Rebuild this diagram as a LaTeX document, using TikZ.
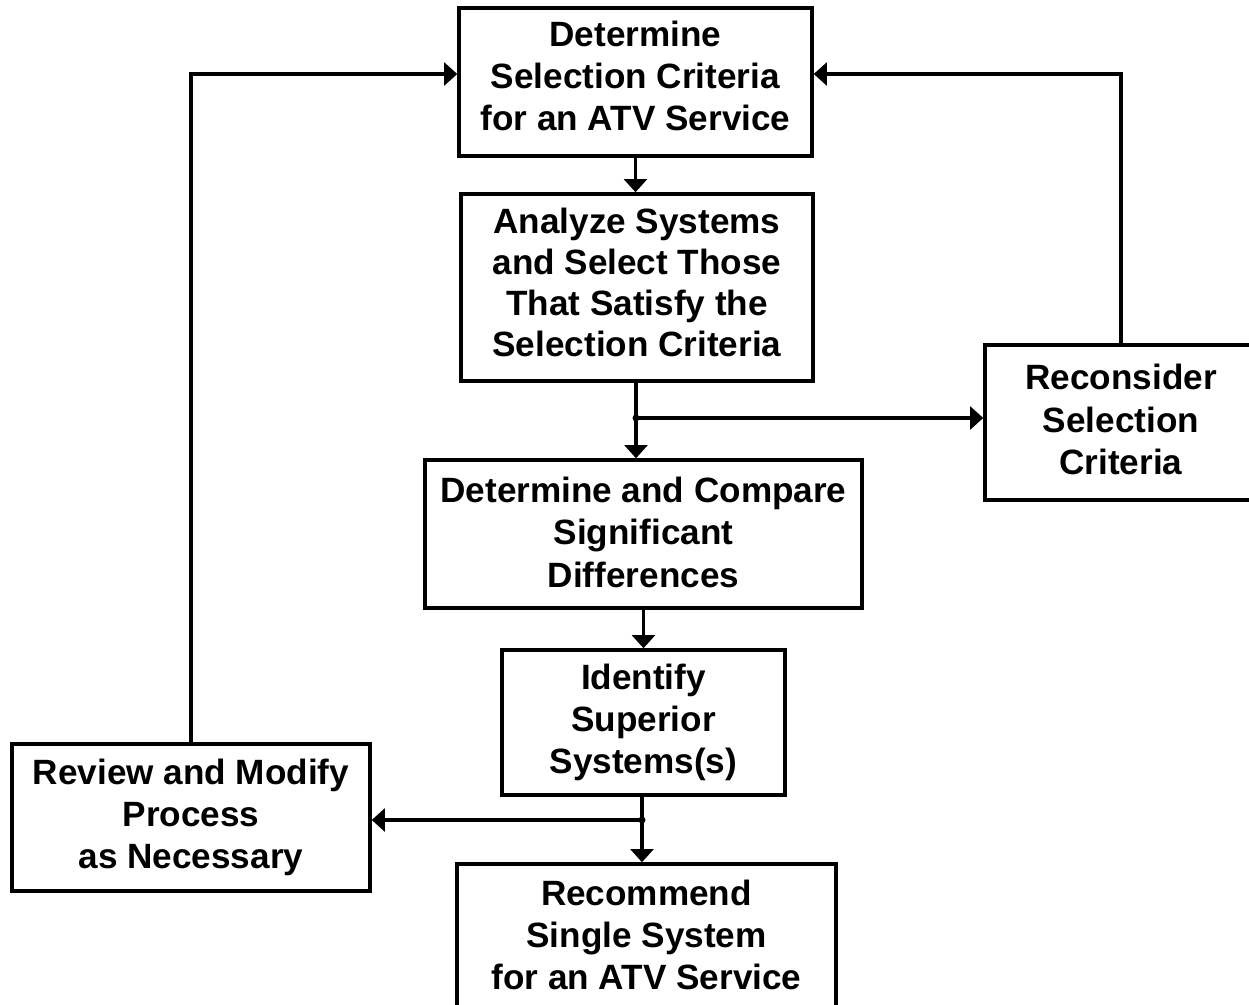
\documentclass[tikz,border=0pt]{standalone}
\usepackage{fontspec}
\setmainfont{Liberation Sans}
\usetikzlibrary{arrows.meta, positioning}

\begin{document}
\begin{tikzpicture}[x=0.02cm, y=-0.02cm,
        process/.style={draw, line width=2pt, inner sep=0pt, align=center,
            font=\bfseries\fontsize{20}{24}\selectfont},
        flow/.style={line width=2pt, -{Triangle[width=13pt, length=7.5pt]}},
        link/.style={line width=2pt}]
    \useasboundingbox (0,0) rectangle (1249,1005);
    \clip (0,0) rectangle (1249,1005);
    % Main column
    \node[process, minimum width=7.06cm, minimum height=2.96cm, text depth=7pt] (criteria) at (635.5, 82)
        {Determine\\ Selection Criteria\\ for an ATV Service};
    \node[process, minimum width=7.04cm, minimum height=3.74cm, text depth=6pt,
        font=\bfseries\fontsize{20}{23.2}\selectfont] (analyze) at (637, 287.5)
        {Analyze Systems\\ and Select Those\\ That Satisfy the\\ Selection Criteria};
    \node[process, minimum width=8.74cm, minimum height=2.96cm, text depth=2pt] (compare) at (643.5, 534)
        {Determine and Compare\\ Significant\\ Differences};
    \node[process, minimum width=5.66cm, minimum height=2.90cm] (identify) at (643.5, 722.5)
        {Identify\\ Superior\\ Systems(s)};
    \node[process, minimum width=7.58cm, minimum height=3.12cm, text depth=8pt] (recommend) at (646.5, 942)
        {Recommend\\ Single System\\ for an ATV Service};
    % Side boxes
    \node[process, minimum width=5.44cm, minimum height=3.10cm, text depth=3.5pt] (reconsider) at (1121, 422.5)
        {Reconsider\\ Selection\\ Criteria};
    \node[process, minimum width=7.16cm, minimum height=2.94cm] (review) at (191, 817.5)
        {Review and Modify\\ Process\\ as Necessary};
    % Junctions
    \coordinate (j1) at (636, 418);
    \coordinate (j2) at (642, 820);
    \coordinate (back) at (0, 74);
    % Connectors
    \draw[flow] (criteria.south) -- (criteria.south |- analyze.north);
    \draw[link] (analyze.south -| j1) -- (j1);
    \draw[flow] (j1) -- (j1 |- compare.north);
    \draw[flow] (j1) -- (j1 -| reconsider.west);
    \fill (j1) circle (3.5);
    \draw[flow] (reconsider.north) |- (criteria.east |- back);
    \draw[flow] (compare.south -| identify.north) -- (identify.north);
    \draw[link] (identify.south -| j2) -- (j2);
    \draw[flow] (j2) -- (j2 |- recommend.north);
    \draw[flow] (j2) -- (review.east |- j2);
    \fill (j2) circle (3.5);
    \draw[flow] (review.north) |- (criteria.west |- back);
\end{tikzpicture}
\end{document}
